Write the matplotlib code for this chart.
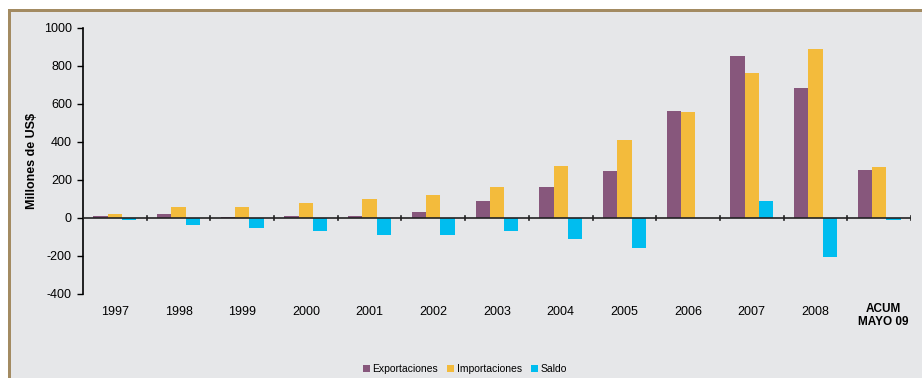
import numpy as np
import matplotlib.pyplot as plt
from matplotlib.patches import Rectangle

plt.rcParams['font.family'] = ['Liberation Sans', 'DejaVu Sans']
plt.rcParams['axes.unicode_minus'] = False

# Datos (millones de US$)
anios = ['1997', '1998', '1999', '2000', '2001', '2002', '2003', '2004',
         '2005', '2006', '2007', '2008', 'ACUM\nMAYO 09']
exportaciones = [12, 21, 7, 12, 12, 33, 89, 163, 247, 561, 851, 682, 253]
importaciones = [23, 56, 60, 77, 98, 119, 161, 272, 410, 556, 765, 889, 267]
saldo = [-12, -37, -55, -67, -88, -88, -70, -108, -158, -2, 88, -205, -10]

fondo = '#e6e7e9'
borde = '#a38b62'

fig = plt.figure(figsize=(9.22, 3.78), dpi=100, facecolor='white')
# marco marron arriba e izquierda
fig.patches.append(Rectangle((8 / 922, 0), 1, 1 - 9 / 378, transform=fig.transFigure,
                             facecolor=fondo, edgecolor='none', zorder=-3))
fig.patches.append(Rectangle((8 / 922, 1 - 12 / 378), 1, 3 / 378, transform=fig.transFigure,
                             facecolor=borde, edgecolor='none', zorder=-2))
fig.patches.append(Rectangle((8 / 922, 0), 3 / 922, 1 - 9 / 378, transform=fig.transFigure,
                             facecolor=borde, edgecolor='none', zorder=-2))

ax = fig.add_axes([83 / 922, 1 - 294 / 378, (911 - 83) / 922, (294 - 28) / 378])
ax.set_facecolor('none')

x = np.arange(len(anios))
w = 0.225
ax.bar(x - w, exportaciones, w, color='#87577c', label='Exportaciones', zorder=2)
ax.bar(x, importaciones, w, color='#f3bb3c', label='Importaciones', zorder=2)
ax.bar(x + w, saldo, w, color='#00bdef', label='Saldo', zorder=2)

ax.set_xlim(-0.5, len(anios) - 0.5)
ax.set_ylim(-400, 1000)
ax.set_yticks(range(-400, 1001, 200))
ax.tick_params(axis='y', labelsize=9, length=4, width=1, direction='out', pad=4)

# eje x en cero con ticks entre categorias
ax.axhline(0, color='#222222', lw=1.2, zorder=3)
for k in range(1, len(anios) + 1):
    ax.plot([k - 0.5, k - 0.5], [-12, 12], color='#222222', lw=1.2, zorder=3)
ax.set_xticks([])
for i, lab in enumerate(anios):
    if i == len(anios) - 1:
        ax.text(i + 0.06, -445, lab, ha='center', va='top', fontsize=8.5,
                fontweight='bold', linespacing=1.2, clip_on=False)
    else:
        ax.text(i, -465, lab, ha='center', va='top', fontsize=9, clip_on=False)

for s in ['top', 'right', 'bottom']:
    ax.spines[s].set_visible(False)
ax.spines['left'].set_linewidth(1.2)

ax.set_ylabel('Millones de US$', fontsize=9, fontweight='bold', labelpad=4)

fig.legend(loc='lower center', bbox_to_anchor=(0.504, -0.015), ncol=3, frameon=False,
           fontsize=7.5, handlelength=0.7, handleheight=0.7, handletextpad=0.2,
           columnspacing=0.9)

fig.savefig('out.png', dpi=100, facecolor=fig.get_facecolor())
